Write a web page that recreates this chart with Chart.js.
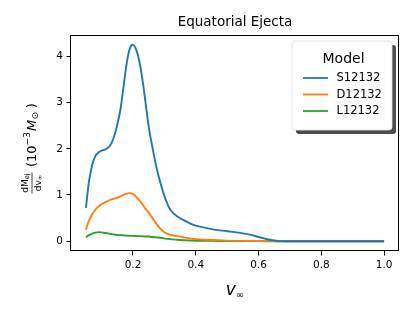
<!DOCTYPE html>
<html><head><meta charset="utf-8">
<script src="https://cdn.jsdelivr.net/npm/chart.js@4/dist/chart.umd.min.js"></script>
<style>html,body{margin:0;padding:0;background:#fff}#wrap{width:415px;height:312px}</style>
</head><body><div id="wrap"><canvas id="c" width="415" height="312"></canvas></div>
<script>
const velocity = [0.05,0.06,0.07,0.08,0.09,0.10,0.11,0.12,0.13,0.14,0.15,0.16,0.17,0.18,0.19,0.20,0.21,0.22,0.23,0.24,0.25,0.26,0.27,0.28,0.29,0.30,0.31,0.32,0.34,0.36,0.38,0.40,0.45,0.50,0.55,0.58,0.60,0.62,0.64,0.66,0.68,0.70,0.80,0.90,1.00];
const S12132 = [0.72,1.3,1.65,1.84,1.92,1.96,1.98,2.02,2.1,2.27,2.52,2.85,3.35,3.85,4.17,4.25,4.15,3.9,3.5,3.0,2.48,2.1,1.75,1.45,1.2,0.98,0.8,0.67,0.54,0.46,0.39,0.335,0.26,0.215,0.17,0.13,0.09,0.055,0.025,0.005,0,0,0,0,0];
const D12132 = [0.25,0.45,0.58,0.68,0.75,0.8,0.84,0.87,0.9,0.92,0.94,0.97,1.0,1.03,1.04,1.02,0.96,0.89,0.8,0.7,0.62,0.52,0.42,0.33,0.25,0.19,0.16,0.135,0.11,0.085,0.06,0.045,0.025,0.012,0.006,0.004,0.003,0.002,0.001,0,0,0,0,0,0];
const L12132 = [0.085,0.13,0.165,0.185,0.195,0.19,0.18,0.17,0.155,0.145,0.135,0.13,0.125,0.12,0.115,0.115,0.11,0.11,0.105,0.1,0.1,0.09,0.085,0.08,0.07,0.06,0.05,0.045,0.03,0.02,0.015,0.01,0.006,0.004,0.003,0.002,0.001,0,0,0,0,0,0,0,0];
const seriesNames = ['S12132','D12132','L12132'];
const seriesColors = ['#1f77b4','#ff7f0e','#2ca02c'];
const xTicks = [0.2,0.4,0.6,0.8,1.0];
const yTicks = [0,1,2,3,4];
const chartTitle = 'Equatorial Ejecta';
const legendTitle = 'Model';

const FONT = "'DejaVu Sans', sans-serif";
const toPts = ys => velocity.map((v,i)=>({x:v,y:ys[i]}));
const allSeries = [S12132,D12132,L12132];

const decor = {
  id:'decor',
  afterDraw(chart){
    const ctx = chart.ctx, a = chart.chartArea;
    ctx.save();
    // frame
    ctx.strokeStyle='#000'; ctx.lineWidth=1;
    ctx.strokeRect(Math.round(a.left)-0.5,Math.round(a.top)+0.5,Math.round(a.right-a.left)+0,Math.round(a.bottom-a.top)-1);
    // title
    ctx.fillStyle='#000'; ctx.font="13.5px "+FONT; ctx.textAlign='center'; ctx.textBaseline='middle';
    ctx.fillText(chartTitle,(a.left+a.right)/2,22.5);
    // x label v_inf
    ctx.font="italic 17px "+FONT; ctx.textAlign='left'; ctx.textBaseline='alphabetic';
    const vw = ctx.measureText('v').width;
    ctx.font="10px "+FONT;
    const iw = ctx.measureText('\u221e').width;
    let x0 = (a.left+a.right)/2 - (vw+iw)/2;
    ctx.font="italic 17px "+FONT; ctx.fillText('v',x0,295);
    ctx.font="10px "+FONT; ctx.fillText('\u221e',x0+vw,298);
    // y label
    ctx.translate(33,155); ctx.rotate(-Math.PI/2);
    ctx.textBaseline='middle'; ctx.textAlign='left';
    let u = -12;
    const vBase = 0;
    ctx.font="13px "+FONT; ctx.fillText('(10',u,vBase); u += ctx.measureText('(10').width;
    ctx.font="9px "+FONT; ctx.fillText('\u22123',u,vBase-5); u += ctx.measureText('\u22123').width+1;
    ctx.font="italic 13px "+FONT; ctx.fillText('M',u,vBase); u += ctx.measureText('M').width;
    ctx.font="9px "+FONT; ctx.fillText('\u2299',u+0.5,vBase+2.5); u += ctx.measureText('\u2299').width+4;
    ctx.font="13px "+FONT; ctx.fillText(')',u,vBase);
    // fraction dM_ej / dv_inf
    const fc = -28, bar = -1;
    ctx.textAlign='left';
    ctx.font="9px "+FONT; const nw = ctx.measureText('dM').width; ctx.font="6.5px "+FONT; const ew = ctx.measureText('ej').width;
    ctx.font="9px "+FONT; ctx.fillText('dM',fc-(nw+ew)/2,bar-6.5);
    ctx.font="6.5px "+FONT; ctx.fillText('ej',fc-(nw+ew)/2+nw,bar-4.5);
    ctx.font="9px "+FONT; const dw = ctx.measureText('dv').width; ctx.font="6.5px "+FONT; const iw2 = ctx.measureText('\u221e').width;
    ctx.font="9px "+FONT; ctx.fillText('dv',fc-(dw+iw2)/2,bar+6.5);
    ctx.font="6.5px "+FONT; ctx.fillText('\u221e',fc-(dw+iw2)/2+dw,bar+8.5);
    ctx.strokeStyle='#000'; ctx.lineWidth=0.7;
    ctx.beginPath(); ctx.moveTo(fc-10.5,bar); ctx.lineTo(fc+10.5,bar); ctx.stroke();
    ctx.restore();
    // legend
    ctx.save();
    const lx=292, ly=41, lw=100, lh=89, r=3;
    const rr=(x,y,w,h)=>{ctx.beginPath();ctx.moveTo(x+r,y);ctx.lineTo(x+w-r,y);ctx.quadraticCurveTo(x+w,y,x+w,y+r);ctx.lineTo(x+w,y+h-r);ctx.quadraticCurveTo(x+w,y+h,x+w-r,y+h);ctx.lineTo(x+r,y+h);ctx.quadraticCurveTo(x,y+h,x,y+h-r);ctx.lineTo(x,y+r);ctx.quadraticCurveTo(x,y,x+r,y);ctx.closePath();};
    rr(lx+4,ly+4,lw,lh); ctx.fillStyle='#4d4d4d'; ctx.fill();
    rr(lx,ly,lw,lh); ctx.fillStyle='#ffffff'; ctx.fill();
    ctx.strokeStyle='#e0e0e0'; ctx.lineWidth=0.8; ctx.stroke();
    ctx.fillStyle='#000'; ctx.font="14px "+FONT; ctx.textAlign='center'; ctx.textBaseline='middle';
    ctx.fillText(legendTitle,343.5,59.5);
    const ys=[78,94.5,111];
    ctx.font="11.5px "+FONT; ctx.textAlign='left';
    seriesNames.forEach((n,i)=>{
      ctx.strokeStyle=seriesColors[i]; ctx.lineWidth=1.8;
      ctx.beginPath(); ctx.moveTo(303,ys[i]); ctx.lineTo(328,ys[i]); ctx.stroke();
      ctx.fillStyle='#000'; ctx.fillText(n,336.5,ys[i]+0.5);
    });
    ctx.restore();
  }
};

new Chart(document.getElementById('c'),{
  type:'line',
  data:{datasets: seriesNames.map((n,i)=>({label:n,data:toPts(allSeries[i]),borderColor:seriesColors[i],backgroundColor:seriesColors[i],borderWidth:1.9,pointRadius:0,tension:0.35,fill:false}))},
  options:{
    responsive:false, animation:false, devicePixelRatio:1,
    layout:{padding:{left:0,right:16,top:35,bottom:0}},
    plugins:{legend:{display:false},tooltip:{enabled:false},title:{display:false}},
    scales:{
      x:{type:'linear',min:0.0025,max:1.0475,
        afterBuildTicks:s=>{s.ticks=xTicks.map(v=>({value:v}));},
        afterFit:s=>{s.height=61;},
        border:{display:false},
        grid:{display:true,drawOnChartArea:false,drawTicks:true,tickLength:4.5,tickColor:'#000',tickWidth:1},
        ticks:{color:'#000',font:{family:FONT,size:10.5},padding:3.5,maxRotation:0,autoSkip:false,callback:v=>v.toFixed(1)}},
      y:{type:'linear',min:-0.2125,max:4.4625,
        afterBuildTicks:s=>{s.ticks=yTicks.map(v=>({value:v}));},
        afterFit:s=>{s.width=71;},
        border:{display:false},
        grid:{display:true,drawOnChartArea:false,drawTicks:true,tickLength:4.5,tickColor:'#000',tickWidth:1},
        ticks:{color:'#000',font:{family:FONT,size:10.5},padding:3.5,autoSkip:false,callback:v=>String(v)}}
    }
  },
  plugins:[decor]
});
</script></body></html>
